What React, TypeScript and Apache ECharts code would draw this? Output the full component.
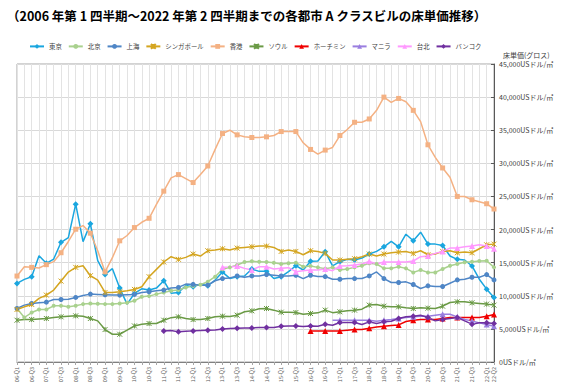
import React, { useEffect, useRef } from "react";
import * as echarts from "echarts";

const categories = [
  "06-Q1","06-Q2","06-Q3","06-Q4","07-Q1","07-Q2","07-Q3","07-Q4",
  "08-Q1","08-Q2","08-Q3","08-Q4","09-Q1","09-Q2","09-Q3","09-Q4",
  "10-Q1","10-Q2","10-Q3","10-Q4","11-Q1","11-Q2","11-Q3","11-Q4",
  "12-Q1","12-Q2","12-Q3","12-Q4","13-Q1","13-Q2","13-Q3","13-Q4",
  "14-Q1","14-Q2","14-Q3","14-Q4","15-Q1","15-Q2","15-Q3","15-Q4",
  "16-Q1","16-Q2","16-Q3","16-Q4","17-Q1","17-Q2","17-Q3","17-Q4",
  "18-Q1","18-Q2","18-Q3","18-Q4","19-Q1","19-Q2","19-Q3","19-Q4",
  "20-Q1","20-Q2","20-Q3","20-Q4","21-Q1","21-Q2","21-Q3","21-Q4",
  "22-Q1","22-Q2"
];

const tokyo = [11870,12470,12880,16060,14900,15550,18080,18790,23840,18180,20860,15300,13230,14090,11160,8740,10350,11060,10860,11160,12270,10400,
  10500,11560,11360,11770,11510,12370,13580,12620,12880,12980,14040,13690,13690,12620,12880,13640,14540,13890,15200,15250,16660,14520,
  15150,15500,15400,15700,16300,16700,17400,18200,17400,19300,18300,19600,17800,17800,17600,16000,15500,15400,14500,12500,11000,9750];
const beijing = [8080,6720,7470,7930,7930,8480,8480,8330,8480,8740,8840,8790,8740,8740,8840,8940,9240,9850,9950,10250,10500,10760,
  10860,11260,11460,11670,12120,12880,13990,14290,14650,15100,15200,15150,15100,15000,14800,14900,15000,14390,14500,14290,14090,14290,
  13890,14040,14290,14540,14900,14800,14140,14140,14390,14140,13530,13890,13530,13530,14040,14540,14800,15050,15150,15250,15300,14290];
const shanghai = [8080,8590,8840,8940,9040,9440,9440,9490,9750,10050,10250,10200,10150,10100,10100,10150,10200,10500,10600,10760,10860,11160,
  11260,11770,11720,11600,11600,12270,12600,12700,13000,12800,13000,13000,13200,13100,13000,13000,13100,12600,13100,12900,12900,12500,
  12500,12600,12600,12600,13000,13600,12600,12000,12000,12100,11700,11100,11500,11400,11400,11900,12400,12500,12800,12800,13200,12400];
const singapore = [7930,8330,8690,9600,10100,10860,12220,13580,14290,14540,13030,12370,10500,10500,10600,10760,10960,11360,12880,13990,15100,15900,
  15500,15800,16300,16000,16800,16900,17100,16900,17200,17300,17400,17500,17500,17300,16700,16900,16700,16200,16800,16700,16400,15400,
  15400,15500,15600,15900,16300,16000,16300,16500,16600,16700,16400,16800,16200,16300,16700,16800,16500,16600,16500,17100,17700,17800];
const hongkong = [12980,14390,14290,14200,14700,15150,16500,18200,20050,20600,19450,16800,13600,15750,18300,19100,20300,21100,21700,23800,25800,27800,
  28300,27700,27100,28300,29600,32100,34500,35000,34300,34000,33900,33900,34000,34200,34800,34800,34800,33100,32100,31400,32000,32400,
  34200,35100,36200,36200,36700,38000,40000,39200,39800,39300,38000,36300,32800,30900,29300,27900,25000,25000,24500,24200,23900,23100];
const seoul = [6310,6410,6410,6510,6570,6720,6820,6920,6970,6920,6570,6210,4900,4190,4190,4800,5450,5710,5810,5810,6310,6700,
  6820,6570,6410,6410,6570,6820,6920,6870,7070,7580,7730,8030,8080,7830,7520,7520,7470,7220,7320,7420,7830,7450,
  7580,7730,7830,7980,8590,8690,8430,8330,8330,8180,8080,8180,8130,8080,8430,8990,9090,9090,8940,8840,8740,8590];
// series that start later: leading empty quarters + values
const hochiminhStart = 40;
const hochiminhValues = [4700,4700,4700,4700,4700,4800,4900,4900,5100,5300,5400,5500,5600,6110,6310,6410,6410,6410,6570,6720,6720,6720,6720,6720,6920,7170];
const manilaStart = 43;
const manilaValues = [6310,6310,6310,6310,6310,6310,6160,6310,6410,6570,6720,6820,6920,6920,7070,7220,7220,6820,6410,6210,5910,5660,5400];
const taipeiStart = 28;
const taipeiValues = [14290,14340,14500,14140,13890,14390,14390,14040,14140,14240,13640,13790,13890,13890,14040,13790,
  14500,14540,14650,14800,15200,14800,15100,15100,15100,15100,15250,15900,16000,16400,16700,17200,17200,17400,17500,17700,17500,17100];
const bangkokStart = 20;
const bangkokValues = [4700,4750,4550,4650,4700,4750,4800,4850,5000,5050,5100,5150,5150,5200,5200,5200,5400,5450,5450,5350,5450,5400,5700,5550,
  5960,5960,5960,5660,6060,5810,6060,6160,6570,6820,6920,7070,6720,6210,6410,6570,6720,6210,5710,5910,5910,5810];

const pad = (start: number, vals: number[]) =>
  (new Array(start).fill(null) as (number | null)[]).concat(vals);

const X_SYMBOL = "path://M0,0L10,10M10,0L0,10M5,0L5,10";

const FONT = "'Noto Sans CJK JP', 'Noto Sans', sans-serif";

export default function App() {
  const ref = useRef<HTMLDivElement>(null);
  useEffect(() => {
    if (!ref.current) return;
    const chart = echarts.init(ref.current, null, { renderer: "svg" });
    const mk = (name: string, data: (number | null)[], color: string, symbol: string, size: number, stroke = false) => ({
      name,
      type: "line",
      data,
      symbol,
      symbolSize: size,
      showSymbol: true,
      connectNulls: false,
      lineStyle: { color, width: 1.5 },
      itemStyle: stroke
        ? { color, borderColor: color, borderWidth: 1 }
        : { color },
      emphasis: { disabled: true },
    });
    chart.setOption({
      animation: false,
      textStyle: { fontFamily: FONT },
      title: {
        text: "（2006 年第 1 四半期～2022 年第 2 四半期までの各都市 A クラスビルの床単価推移）",
        left: 2,
        top: 4,
        textStyle: { fontSize: 12.5, fontWeight: "bold", color: "#000", fontFamily: FONT },
      },
      legend: {
        left: 24,
        top: 38,
        itemGap: 6,
        itemWidth: 14,
        itemHeight: 6,
        textStyle: { fontSize: 6.4, color: "#404040", fontFamily: FONT },
      },
      grid: {
        left: 17,
        right: 73,
        top: 64,
        bottom: 27,
        show: true,
        borderColor: "#a6a6a6",
        borderWidth: 1,
      },
      xAxis: {
        type: "category",
        data: categories,
        boundaryGap: false,
        axisLine: { lineStyle: { color: "#808080" } },
        axisTick: { show: true, interval: 0, length: 3, lineStyle: { color: "#a6a6a6" } },
        axisLabel: {
          rotate: 90,
          fontSize: 5.5,
          color: "#595959",
          margin: 5,
          interval: (i: number) => i % 2 === 0 || i === categories.length - 1,
        },
        splitLine: { show: true, interval: 0, lineStyle: { color: "#e3e3e3", width: 1 } },
      },
      yAxis: {
        type: "value",
        position: "right",
        min: 0,
        max: 45000,
        interval: 5000,
        name: "床単価(グロス)",
        nameLocation: "end",
        nameGap: 6,
        nameTextStyle: { fontSize: 7, color: "#404040", align: "left", padding: [0, 0, 0, 9] },
        axisLine: { show: true, lineStyle: { color: "#595959" } },
        axisTick: { show: true, inside: true, length: 3, lineStyle: { color: "#595959" } },
        axisLabel: {
          fontSize: 7,
          color: "#404040",
          margin: 5,
          formatter: (v: number) => v.toLocaleString("en-US") + "USドル/㎡",
        },
        splitLine: { show: true, lineStyle: { color: "#d9d9d9" } },
      },
      series: [
        mk("東京", tokyo, "#1aa6df", "diamond", 6),
        mk("北京", beijing, "#a9d18e", "circle", 4),
        mk("上海", shanghai, "#4f86c6", "circle", 5),
        mk("シンガポール", singapore, "#d4a520", X_SYMBOL, 5, true),
        mk("香港", hongkong, "#f4b183", "rect", 5),
        mk("ソウル", seoul, "#6a9a45", X_SYMBOL, 5, true),
        mk("ホーチミン", pad(hochiminhStart, hochiminhValues), "#f00000", "triangle", 6),
        mk("マニラ", pad(manilaStart, manilaValues), "#9a7ee0", "triangle", 6),
        mk("台北", pad(taipeiStart, taipeiValues), "#ff99ff", "triangle", 6),
        mk("バンコク", pad(bangkokStart, bangkokValues), "#7030a0", "diamond", 6),
      ],
    });
    return () => chart.dispose();
  }, []);
  return <div ref={ref} style={{ width: 567, height: 389, position: "absolute", left: 0, top: 0 }} />;
}
